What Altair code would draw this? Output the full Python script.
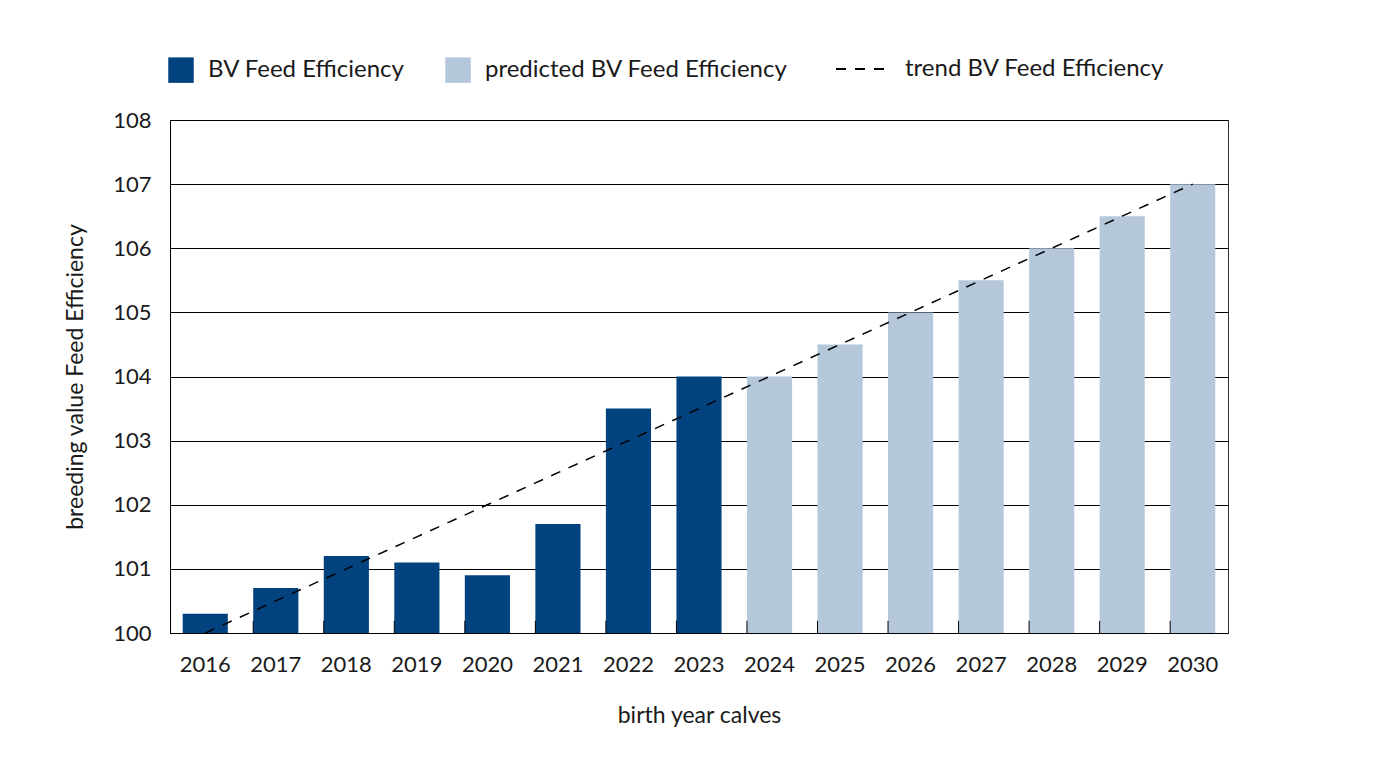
import altair as alt
import pandas as pd

years = ["2016", "2017", "2018", "2019", "2020", "2021", "2022", "2023",
         "2024", "2025", "2026", "2027", "2028", "2029", "2030"]
bv_values = [100.3, 100.7, 101.2, 101.1, 100.9, 101.7, 103.5, 104.0,
             104.0, 104.5, 105.0, 105.5, 106.0, 106.5, 107.0]
series = ["BV Feed Efficiency"] * 8 + ["predicted BV Feed Efficiency"] * 7
trend_values = [100.0, 100.5, 101.0, 101.5, 102.0, 102.5, 103.0, 103.5,
                104.0, 104.5, 105.0, 105.5, 106.0, 106.5, 107.0]
trend_label = "trend BV Feed Efficiency"
y_ticks = [100, 101, 102, 103, 104, 105, 106, 107, 108]
y_base = 100
tick_years = years[1:]
tick_top = 100.19

series_domain = ["BV Feed Efficiency", "predicted BV Feed Efficiency"]
series_colors = ["#02437F", "#B5C7DA"]

FONT = "Lato"
TXT = "#1a1a1a"

bars_df = pd.DataFrame({"year": years, "value": bv_values, "series": series,
                        "base": [y_base] * len(years)})
trend_df = pd.DataFrame({"year": years, "value": trend_values, "label": [trend_label] * len(years)})
ticks_df = pd.DataFrame({"year": tick_years, "y0": [y_base] * len(tick_years), "y1": [tick_top] * len(tick_years)})

x_scale = alt.Scale(domain=years, paddingInner=0.36, paddingOuter=0.18)
y_scale = alt.Scale(domain=[100, 108], nice=False, zero=False)

bars = alt.Chart(bars_df).mark_bar().encode(
    x=alt.X("year:N", scale=x_scale, sort=years,
            axis=alt.Axis(title="birth year calves", labelAngle=0, ticks=False,
                          labelPadding=21, titlePadding=29, domainColor="#000",
                          grid=False)),
    y=alt.Y("value:Q", scale=y_scale,
            axis=alt.Axis(title="breeding value Feed Efficiency", values=y_ticks,
                          format="d", ticks=False, labelPadding=19, titlePadding=25,
                          grid=True, gridColor="#000", gridWidth=1, gridOpacity=1,
                          domainColor="#000")),
    y2="base:Q",
    color=alt.Color("series:N",
                    scale=alt.Scale(domain=series_domain, range=series_colors),
                    legend=alt.Legend(title=None, orient="none", legendX=-2, legendY=-63,
                                      direction="horizontal", columns=2,
                                      symbolType="square", symbolSize=650,
                                      symbolStrokeWidth=0, labelOffset=14,
                                      columnPadding=40, labelFontSize=24,
                                      labelLimit=400,
                                      labelFont=FONT, labelColor=TXT)),
)

ticks = alt.Chart(ticks_df).mark_rule(color="#000", strokeWidth=1).encode(
    x=alt.X("year:N", scale=x_scale, sort=years, bandPosition=0),
    y=alt.Y("y0:Q", scale=y_scale),
    y2="y1:Q",
)

trend = alt.Chart(trend_df).mark_line(color="#000", strokeWidth=1.5).encode(
    x=alt.X("year:N", scale=x_scale, sort=years),
    y=alt.Y("value:Q", scale=y_scale),
    strokeDash=alt.StrokeDash("label:N",
                              scale=alt.Scale(domain=[trend_label], range=[[10, 9]]),
                              legend=alt.Legend(title=None, orient="none", legendX=665, legendY=-77,
                                                symbolType="stroke", symbolSize=2500,
                                                symbolStrokeColor="#000",
                                                symbolStrokeWidth=2, labelOffset=18,
                                                labelFontSize=24, labelFont=FONT,
                                                labelLimit=400,
                                                labelColor=TXT)),
)

chart = alt.layer(bars, ticks, trend).properties(
    width=1058, height=513,
    background="white",
    autosize=alt.AutoSizeParams(type="none"),
    padding={"left": 162, "top": 112, "right": 140, "bottom": 130},
).configure_view(stroke="#333", strokeWidth=1).configure_axis(
    labelFont=FONT, labelFontSize=22, labelColor=TXT,
    titleFont=FONT, titleFontSize=23, titleFontWeight="normal", titleColor=TXT,
)

chart.save("out.html", embed_options={"renderer": "svg", "actions": False})
